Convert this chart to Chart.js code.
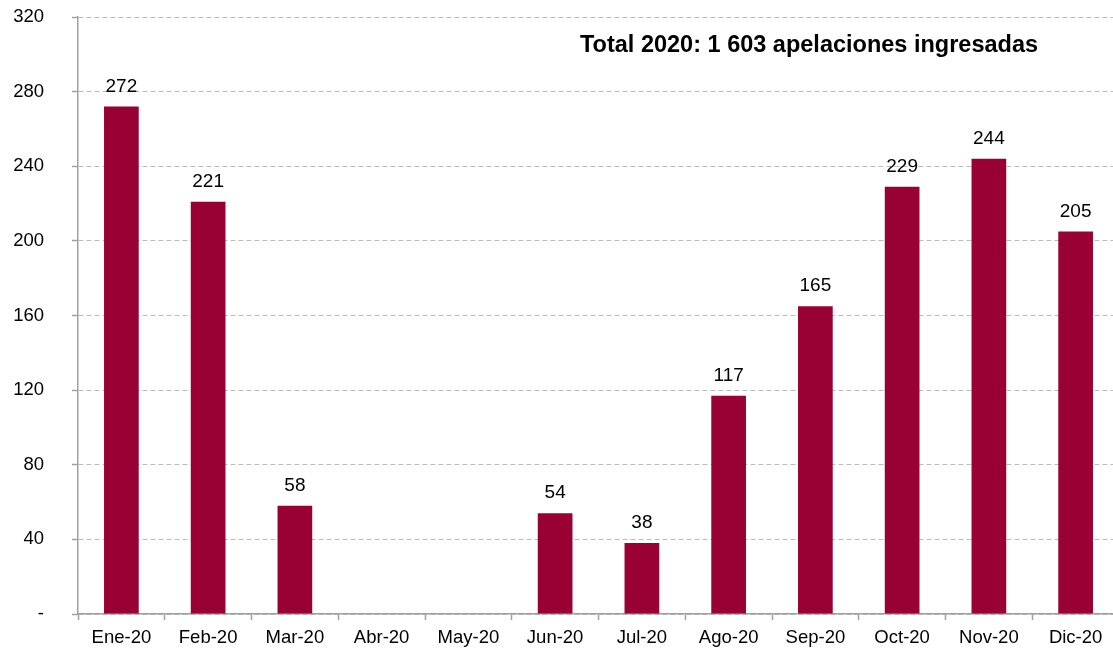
<!DOCTYPE html>
<html>
<head>
<meta charset="utf-8">
<script src="https://cdn.jsdelivr.net/npm/chart.js@4/dist/chart.umd.min.js"></script>
<style>
  html, body { margin: 0; padding: 0; background: #fff; overflow: hidden; }
</style>
</head>
<body>
<canvas id="chart" width="1119" height="650"></canvas>
<script>
const months = ['Ene-20', 'Feb-20', 'Mar-20', 'Abr-20', 'May-20', 'Jun-20', 'Jul-20', 'Ago-20', 'Sep-20', 'Oct-20', 'Nov-20', 'Dic-20']
const apelaciones = [272, 221, 58, 0, 0, 54, 38, 117, 165, 229, 244, 205]
const yTicks = [0, 40, 80, 120, 160, 200, 240, 280, 320]
const titleText = 'Total 2020: 1 603 apelaciones ingresadas'

const FONT = 'Arial, "Liberation Sans", sans-serif'

// value labels above the bars
const barLabels = {
    id: 'barLabels',
    afterDatasetsDraw(chart) {
        const { ctx } = chart
        const meta = chart.getDatasetMeta(0)
        ctx.save()
        ctx.font = '19px ' + FONT
        ctx.fillStyle = '#000'
        ctx.textAlign = 'center'
        ctx.textBaseline = 'alphabetic'
        meta.data.forEach((bar, i) => {
            const v = apelaciones[i]
            if (!v) return
            ctx.fillText(String(v), bar.x, bar.y - 15)
        })
        ctx.restore()
    }
}

// title inside the plot, top right
const innerTitle = {
    id: 'innerTitle',
    afterDraw(chart) {
        const { ctx } = chart
        ctx.save()
        ctx.font = 'bold 23.5px ' + FONT
        ctx.fillStyle = '#000'
        ctx.textAlign = 'center'
        ctx.textBaseline = 'alphabetic'
        ctx.fillText(titleText, 809, 52)
        ctx.restore()
    }
}

new Chart(document.getElementById('chart'), {
    type: 'bar',
    data: {
        labels: months,
        datasets: [{
            data: apelaciones,
            backgroundColor: '#990033',
            borderWidth: 0,
            barPercentage: 0.4,
            categoryPercentage: 1
        }]
    },
    options: {
        responsive: false,
        animation: false,
        events: [],
        layout: { padding: { top: 17, left: 0, right: 0, bottom: 0 } },
        plugins: {
            legend: { display: false },
            tooltip: { enabled: false },
            title: { display: false }
        },
        scales: {
            x: {
                offset: true,
                grid: {
                    display: true,
                    offset: true,
                    drawOnChartArea: false,
                    drawTicks: true,
                    tickLength: 6,
                    tickColor: '#a0a0a0',
                    tickWidth: 1.5
                },
                border: { display: true, color: '#a0a0a0', width: 1.5 },
                ticks: {
                    color: '#000',
                    font: { size: 18.5, family: FONT },
                    padding: 7,
                    maxRotation: 0,
                    autoSkip: false
                },
                afterFit: s => { s.height = 36; s.paddingLeft = 0; s.paddingRight = 0 }
            },
            y: {
                min: 0,
                max: 320,
                afterBuildTicks: s => { s.ticks = yTicks.map(v => ({ value: v })) },
                grid: {
                    color: '#bcbcbc',
                    lineWidth: 1,
                    drawTicks: true,
                    tickLength: 6,
                    tickColor: '#a0a0a0',
                    tickWidth: 1.5
                },
                border: { display: true, color: '#a0a0a0', width: 1.5, dash: [5, 3] },
                ticks: {
                    color: '#000',
                    font: { size: 18.5, family: FONT },
                    padding: 28,
                    callback: v => v === 0 ? '-' : v
                },
                afterFit: s => { s.width = 78; s.paddingTop = 0; s.paddingBottom = 0 }
            }
        }
    },
    plugins: [barLabels, innerTitle]
})
</script>
</body>
</html>
